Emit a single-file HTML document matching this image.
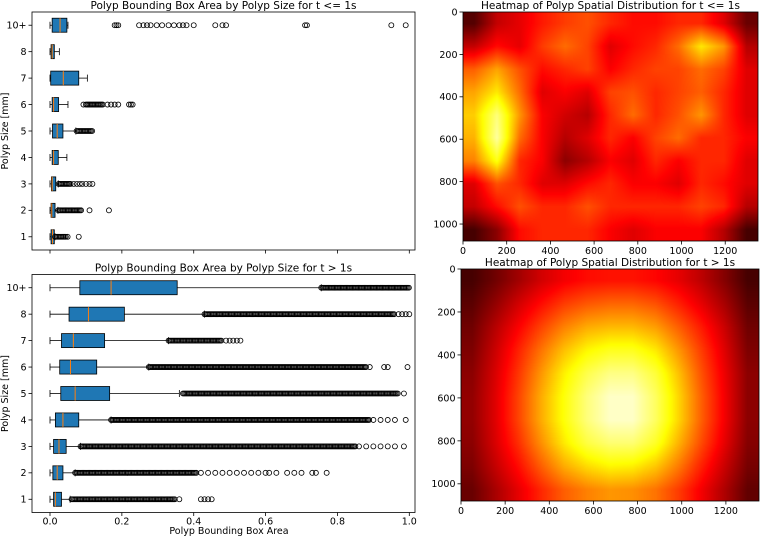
<!DOCTYPE html>
<html><head><meta charset="utf-8">
<style>
body{margin:0;background:#fff;width:760px;height:536px;overflow:hidden;position:relative;font-family:"DejaVu Sans","Liberation Sans",sans-serif}
canvas{position:absolute}
svg{position:absolute;left:0;top:0}
text{font-family:"DejaVu Sans","Liberation Sans",sans-serif;fill:#000}
</style></head>
<body>
<canvas id="hm1" width="295" height="229" style="left:463px;top:12px;width:295px;height:229px"></canvas>
<canvas id="hm2" width="298" height="232" style="left:461px;top:269px;width:298px;height:232px"></canvas>
<svg id="svg" width="760" height="536"></svg>
<script>
const categories = ["1","2","3","4","5","6","7","8","10+"];
// top: t <= 1s  [whislo,q1,med,q3,whishi]
const statsEarly = [
 [0,0.003,0.007,0.012,0.014],[0,0.003,0.005,0.014,0.022],[0,0.004,0.006,0.016,0.023],
 [0,0.006,0.01,0.023,0.047],[0,0.007,0.02,0.036,0.072],[0,0.006,0.01,0.024,0.05],
 [0,0.002,0.037,0.08,0.104],[0,0.003,0.006,0.012,0.026],[0,0.006,0.028,0.047,0.05]];
const denseEarly = [[0.014,0.046],[0.023,0.088],[0.024,0.058],null,[0.074,0.12],[0.1,0.15],null,null,null];
const flierEarly = [[0.049,0.08],[0.11,0.164],[0.066,0.075,0.083,0.09,0.1,0.11,0.118],[],[],
 [0.093,0.16,0.17,0.18,0.19,0.22,0.225,0.23],[],[],
 [0.18,0.185,0.19,0.248,0.26,0.27,0.28,0.297,0.312,0.33,0.345,0.36,0.37,0.38,0.4,0.46,0.48,0.49,0.71,0.715,0.95,0.99]];
// bottom: t > 1s
const statsLate = [
 [0,0.01,0.015,0.032,0.056],[0,0.008,0.02,0.036,0.07],[0,0.01,0.025,0.045,0.085],
 [0,0.015,0.036,0.08,0.17],[0,0.03,0.07,0.166,0.36],[0,0.027,0.057,0.13,0.275],
 [0,0.032,0.065,0.152,0.33],[0,0.053,0.107,0.207,0.43],[0,0.083,0.17,0.354,0.755]];
const denseLate = [[0.06,0.35],[0.07,0.41],[0.085,0.85],[0.17,0.89],[0.37,0.97],[0.275,0.88],[0.33,0.48],[0.43,0.96],[0.755,1.0]];
const flierLate = [[0.36,0.42,0.43,0.44,0.45],
 [0.42,0.44,0.46,0.48,0.5,0.52,0.54,0.56,0.58,0.6,0.61,0.63,0.66,0.68,0.7,0.73,0.74,0.77],
 [0.86,0.88,0.9,0.92,0.94,0.96,0.985],[0.9,0.92,0.94,0.96,0.99],[0.985],[0.89,0.93,0.94,0.995],
 [0.49,0.5,0.51,0.52,0.53],[0.97,0.98,0.99,1.0],[]];
const xTicks = [0,0.2,0.4,0.6,0.8,1.0];
const xTickLabels = ["0.0","0.2","0.4","0.6","0.8","1.0"];
const hmXTicks = [0,200,400,600,800,1000,1200];
const hmYTicks = [0,200,400,600,800,1000];
const heatEarly = [
 [0.12,0.28,0.33,0.4,0.45,0.48,0.42,0.38,0.38,0.42,0.42,0.32,0.15],
 [0.28,0.38,0.33,0.45,0.52,0.46,0.32,0.38,0.42,0.52,0.7,0.58,0.26],
 [0.5,0.6,0.48,0.38,0.42,0.46,0.36,0.42,0.46,0.46,0.52,0.46,0.32],
 [0.6,0.7,0.52,0.32,0.36,0.32,0.46,0.48,0.42,0.46,0.5,0.42,0.32],
 [0.66,0.86,0.58,0.36,0.3,0.26,0.42,0.52,0.42,0.48,0.58,0.42,0.32],
 [0.62,0.9,0.52,0.36,0.26,0.32,0.42,0.36,0.46,0.52,0.42,0.42,0.36],
 [0.55,0.75,0.42,0.36,0.2,0.26,0.36,0.32,0.42,0.36,0.42,0.42,0.32],
 [0.32,0.48,0.42,0.32,0.32,0.38,0.42,0.36,0.36,0.32,0.42,0.38,0.32],
 [0.28,0.38,0.48,0.42,0.42,0.48,0.42,0.42,0.42,0.42,0.46,0.42,0.26],
 [0.1,0.2,0.38,0.42,0.42,0.42,0.36,0.32,0.36,0.36,0.36,0.26,0.1]];
const heatLate = [
 [0.1,0.16,0.23,0.3,0.35,0.38,0.39,0.39,0.37,0.33,0.27,0.19,0.1],
 [0.13,0.21,0.3,0.38,0.45,0.49,0.51,0.51,0.48,0.41,0.33,0.24,0.13],
 [0.16,0.26,0.36,0.46,0.55,0.61,0.63,0.63,0.59,0.5,0.4,0.29,0.16],
 [0.18,0.29,0.41,0.53,0.64,0.72,0.76,0.76,0.7,0.58,0.45,0.32,0.18],
 [0.2,0.31,0.44,0.58,0.71,0.81,0.87,0.87,0.79,0.64,0.48,0.34,0.2],
 [0.21,0.32,0.46,0.61,0.74,0.86,0.94,0.94,0.83,0.67,0.5,0.35,0.2],
 [0.21,0.32,0.46,0.61,0.74,0.86,0.94,0.94,0.83,0.67,0.5,0.35,0.2],
 [0.2,0.31,0.43,0.57,0.7,0.8,0.85,0.85,0.77,0.62,0.47,0.33,0.19],
 [0.18,0.28,0.38,0.5,0.61,0.68,0.72,0.71,0.65,0.54,0.41,0.29,0.17],
 [0.15,0.24,0.33,0.42,0.5,0.55,0.58,0.57,0.53,0.45,0.35,0.25,0.14]];

const NS="http://www.w3.org/2000/svg", svg=document.getElementById('svg');
function el(tag,attrs,parent,txt){const e=document.createElementNS(NS,tag);for(const k in attrs)e.setAttribute(k,attrs[k]);if(txt!==undefined)e.textContent=txt;(parent||svg).appendChild(e);return e;}

function boxPanel(top,bottom,stats,dense,fliers,title,showXLabels,name){
  const L=32,R=415;
  const xs=v=>50+v*359.3;
  const ys=i=>bottom-(i+0.5)*(bottom-top)/9;
  const g=el('g',{});  
  const t=el('text',{x:223.5,y:top-3,'text-anchor':'middle','font-size':'10.5'},g,title);
   
  categories.forEach((c,i)=>{
    const y=ys(i), s=stats[i], h=7;
    const bg=el('g',{},g);  
    el('line',{x1:xs(s[0]),x2:xs(s[1]),y1:y,y2:y,stroke:'#000','stroke-width':0.8},bg);
    el('line',{x1:xs(s[3]),x2:xs(s[4]),y1:y,y2:y,stroke:'#000','stroke-width':0.8},bg);
    el('line',{x1:xs(s[0]),x2:xs(s[0]),y1:y-3.5,y2:y+3.5,stroke:'#000','stroke-width':0.8},bg);
    el('line',{x1:xs(s[4]),x2:xs(s[4]),y1:y-3.5,y2:y+3.5,stroke:'#000','stroke-width':0.8},bg);
    el('rect',{x:xs(s[1]),y:y-h,width:Math.max(xs(s[3])-xs(s[1]),0.8),height:2*h,fill:'#1f77b4',stroke:'#000','stroke-width':0.8},bg);
    el('line',{x1:xs(s[2]),x2:xs(s[2]),y1:y-h,y2:y+h,stroke:'#ff7f0e','stroke-width':1},bg);
    if(dense[i]){
      const [a,b]=dense[i];
      for(let x=xs(a);x<=xs(b);x+=1.2) el('circle',{cx:x,cy:y,r:2.5,fill:'none',stroke:'#000','stroke-width':0.8},bg);
    }
    fliers[i].forEach(v=>el('circle',{cx:xs(v),cy:y,r:2.5,fill:'none',stroke:'#000','stroke-width':0.8},bg));
    el('line',{x1:L,x2:L-3.5,y1:y,y2:y,stroke:'#000','stroke-width':0.8},g);
    el('text',{x:L-5.5,y:y+3.4,'text-anchor':'end','font-size':'9.5'},g,c);
  });
  xTicks.forEach((v,k)=>{
    el('line',{x1:xs(v),x2:xs(v),y1:bottom,y2:bottom+3.5,stroke:'#000','stroke-width':0.8},g);
    if(showXLabels) el('text',{x:xs(v),y:bottom+12,'text-anchor':'middle','font-size':'9.5'},g,xTickLabels[k]);
  });
  el('rect',{x:L,y:top,width:R-L,height:bottom-top,fill:'none',stroke:'#000','stroke-width':0.8},g);
  const yl=el('text',{x:0,y:0,'text-anchor':'middle','font-size':'9.5',transform:`translate(8,${(top+bottom)/2}) rotate(-90)`},g,'Polyp Size [mm]');
   
}
boxPanel(12,250,statsEarly,denseEarly,flierEarly,'Polyp Bounding Box Area by Polyp Size for t <= 1s',false,'boxplot-early');
boxPanel(274.5,512.5,statsLate,denseLate,flierLate,'Polyp Bounding Box Area by Polyp Size for t > 1s',true,'boxplot-late');
const xl=el('text',{x:229,y:534,'text-anchor':'middle','font-size':'9.5'},svg,'Polyp Bounding Box Area');
 

function hot(v){v=Math.max(0,Math.min(1,v));return [Math.min(1,v/0.365),Math.max(0,Math.min(1,(v-0.365)/0.365))
  ,Math.max(0,Math.min(1,(v-0.73)/0.27))].map(c=>Math.round(c*255));}
function drawHeat(id,grid,left,top,w,h,title,name){
  const cv=document.getElementById(id),ctx=cv.getContext('2d'),img=ctx.createImageData(w,h);
  const nr=grid.length,nc=grid[0].length;
  for(let py=0;py<h;py++)for(let px=0;px<w;px++){
    let fx=Math.max(0,Math.min(nc-1,(px+0.5)/w*nc-0.5)), fy=Math.max(0,Math.min(nr-1,(py+0.5)/h*nr-0.5));
    const x0=Math.floor(fx),y0=Math.floor(fy),x1=Math.min(nc-1,x0+1),y1=Math.min(nr-1,y0+1),dx=fx-x0,dy=fy-y0;
    const v=grid[y0][x0]*(1-dx)*(1-dy)+grid[y0][x1]*dx*(1-dy)+grid[y1][x0]*(1-dx)*dy+grid[y1][x1]*dx*dy;
    const c=hot(v),i=(py*w+px)*4; img.data[i]=c[0];img.data[i+1]=c[1];img.data[i+2]=c[2];img.data[i+3]=255;
  }
  ctx.putImageData(img,0,0);
  const g=el('g',{});  
  const xs=v=>left+v/1350*w, ys=v=>top+v/1080*h;
  el('rect',{x:left,y:top,width:w,height:h,fill:'none',stroke:'#000','stroke-width':0.8},g);
  hmXTicks.forEach(v=>{el('line',{x1:xs(v),x2:xs(v),y1:top+h,y2:top+h+3.5,stroke:'#000','stroke-width':0.8},g);
    el('text',{x:xs(v),y:top+h+13,'text-anchor':'middle','font-size':'9.5'},g,String(v));});
  hmYTicks.forEach(v=>{el('line',{x1:left,x2:left-3.5,y1:ys(v),y2:ys(v),stroke:'#000','stroke-width':0.8},g);
    el('text',{x:left-5.5,y:ys(v)+3.4,'text-anchor':'end','font-size':'9.5'},g,String(v));});
  const t=el('text',{x:left+w/2,y:top-3,'text-anchor':'middle','font-size':'10.5'},g,title);
   
}
drawHeat('hm1',heatEarly,463,12,295,229,'Heatmap of Polyp Spatial Distribution for t <= 1s','heatmap-early');
drawHeat('hm2',heatLate,461,269,298,232,'Heatmap of Polyp Spatial Distribution for t > 1s','heatmap-late');
</script>
</body></html>
